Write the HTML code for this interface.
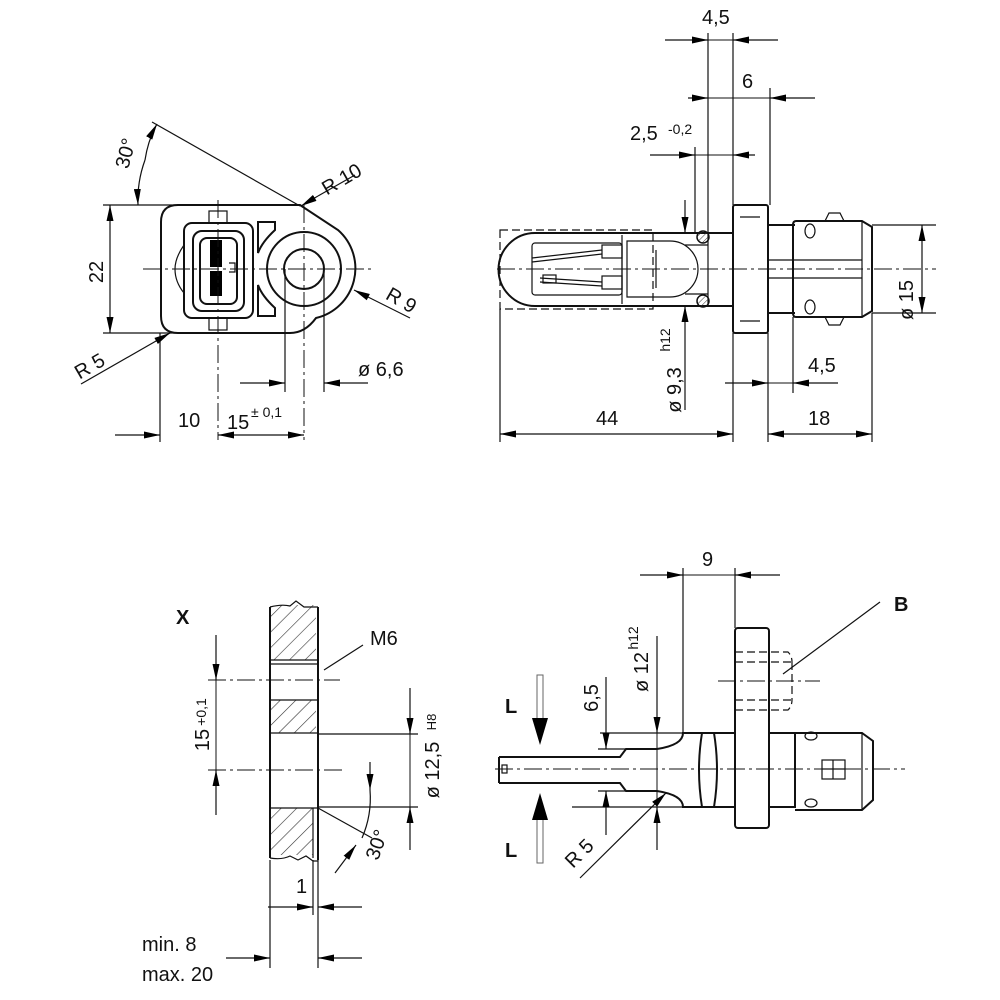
<!DOCTYPE html>
<html><head><meta charset="utf-8"><style>
html,body{margin:0;padding:0;background:#fff}
svg{display:block}
text{font-family:"Liberation Sans",Arial,sans-serif;fill:#111;font-size:20px}
.t{stroke:#111;stroke-width:1.2;fill:none}
.k{stroke:#111;stroke-width:2;fill:none}
.c{stroke:#111;stroke-width:1;fill:none;stroke-dasharray:18 4 3 4}
.d{stroke:#111;stroke-width:1.2;fill:none;stroke-dasharray:8 4}
.a{stroke:#111;stroke-width:1.2;fill:none;marker-end:url(#ar)}
.h{stroke:#111;stroke-width:1;fill:none}
</style></head><body>
<svg width="1000" height="1000" viewBox="0 0 1000 1000" xmlns="http://www.w3.org/2000/svg">
<defs>
<marker id="ar" viewBox="0 0 16 7" refX="16" refY="3.5" markerWidth="16" markerHeight="7" markerUnits="userSpaceOnUse" orient="auto"><path d="M0,0 L16,3.5 L0,7z" fill="#000"/></marker>
<pattern id="hat" width="11" height="11" patternUnits="userSpaceOnUse" patternTransform="rotate(45)"><line x1="0" y1="0" x2="0" y2="11" stroke="#333" stroke-width="1.2"/></pattern>
<pattern id="hat2" width="4" height="4" patternUnits="userSpaceOnUse" patternTransform="rotate(45)"><line x1="0" y1="0" x2="0" y2="4" stroke="#333" stroke-width="1"/></pattern>
</defs>

<!-- ============ VIEW 1 ============ -->
<path class="k" d="M178 205 H300 L338 230 A51 51 0 0 1 316 318 Q305 333 290 333 H178 Q161 333 161 316 V222 Q161 205 178 205 Z"/>
<circle class="k" cx="304" cy="269" r="37"/>
<circle class="k" cx="304" cy="269" r="20"/>
<rect class="k" x="184" y="223" width="69" height="95" rx="8"/>
<rect class="k" x="193" y="231" width="51" height="80" rx="9"/>
<rect class="k" x="200" y="238" width="37" height="66" rx="7"/>
<rect x="210" y="240" width="12" height="27" fill="#000"/>
<rect x="210" y="271" width="12" height="25" fill="#000"/>
<rect class="t" x="209" y="211" width="18" height="12"/>
<rect class="t" x="209" y="318" width="18" height="12"/>
<path class="t" d="M229 263 h6 v9 h-6"/>
<path class="k" d="M258 222 H275 V230 Q262 242 258 253 Z"/>
<path class="k" d="M258 316 H275 V308 Q262 296 258 285 Z"/>
<path class="t" d="M184 245 Q175 258 175 269 Q175 282 184 293"/>
<line class="c" x1="143" y1="269" x2="374" y2="269"/>
<line class="c" x1="218" y1="200" x2="218" y2="440"/>
<line class="c" x1="304" y1="205" x2="304" y2="440"/>
<line class="t" x1="285" y1="269" x2="285" y2="392"/>
<line class="t" x1="324" y1="269" x2="324" y2="392"/>
<line class="t" x1="160" y1="333" x2="160" y2="442"/>
<!-- 22 -->
<line class="t" x1="103" y1="205" x2="178" y2="205"/>
<line class="t" x1="103" y1="333" x2="190" y2="333"/>
<line class="a" x1="110" y1="269" x2="110" y2="205"/>
<line class="a" x1="110" y1="269" x2="110" y2="333"/>
<text transform="translate(103,272) rotate(-90)" text-anchor="middle">22</text>
<!-- 30 deg -->
<line class="t" x1="300" y1="206" x2="152" y2="122"/>
<path class="a" d="M145 160 Q137 182 138 205"/>
<path class="a" d="M145 160 Q148 140 157 124"/>
<text transform="translate(132,155) rotate(-75)" text-anchor="middle">30°</text>
<!-- R10 -->
<line class="t" x1="355" y1="175" x2="318" y2="196"/>
<line class="a" x1="318" y1="196" x2="301" y2="206"/>
<text transform="translate(345,185) rotate(-30)" text-anchor="middle">R 10</text>
<!-- R9 -->
<line class="a" x1="410" y1="318" x2="354" y2="290"/>
<text transform="translate(398,306) rotate(30)" text-anchor="middle">R 9</text>
<!-- R5 -->
<line class="a" x1="81" y1="384" x2="170" y2="333"/>
<text transform="translate(93,372) rotate(-30)" text-anchor="middle">R 5</text>
<!-- ø6,6 -->
<line class="a" x1="240" y1="383" x2="285" y2="383"/>
<line class="a" x1="368" y1="383" x2="324" y2="383"/>
<text x="358" y="376">ø 6,6</text>
<!-- 10 / 15 -->
<line class="a" x1="115" y1="435" x2="160" y2="435"/>
<line class="a" x1="261" y1="435" x2="218" y2="435"/>
<line class="a" x1="261" y1="435" x2="304" y2="435"/>
<text x="178" y="427">10</text>
<text x="227" y="429">15</text>
<text x="251" y="417" style="font-size:14px">± 0,1</text>

<!-- ============ VIEW 2 ============ -->
<line class="c" x1="497" y1="269" x2="936" y2="269"/>
<rect class="d" x="500" y="230" width="153" height="79"/>
<path class="k" d="M535 233 H732 M535 306 H732 M535 233 A36.5 36.5 0 0 0 535 306"/>
<rect class="t" x="532" y="243" width="90" height="52" rx="3"/>
<line class="t" x1="622" y1="235" x2="622" y2="304"/>
<path class="t" d="M627 241 H670 A28 28 0 0 1 670 297 H627 Z"/>
<line class="t" x1="656" y1="250" x2="656" y2="288"/>
<path class="t" d="M532 258 L602 250 M532 262 L602 254 M540 278 L602 282 M540 282 L602 286"/>
<rect class="t" x="602" y="245" width="20" height="13"/>
<rect class="t" x="602" y="276" width="20" height="13"/>
<rect class="t" x="543" y="275" width="13" height="8"/>
<line class="t" x1="685" y1="245" x2="708" y2="245"/>
<line class="t" x1="685" y1="294" x2="708" y2="294"/>
<line class="t" x1="708" y1="233" x2="708" y2="306"/>
<circle cx="703" cy="237" r="6" fill="url(#hat2)" stroke="#111" stroke-width="1.5"/>
<circle cx="703" cy="301" r="6" fill="url(#hat2)" stroke="#111" stroke-width="1.5"/>
<rect class="k" x="733" y="205" width="35" height="128" rx="2"/>
<line class="t" x1="740" y1="217" x2="760" y2="217"/>
<line class="t" x1="740" y1="321" x2="760" y2="321"/>
<path class="k" d="M768 225 H795 M768 313 H795"/>
<path class="k" d="M796 221 H862 L872 227 V311 L862 317 H796 Q793 317 793 313 V225 Q793 221 796 221 Z"/>
<line class="t" x1="862" y1="221" x2="862" y2="317"/>
<line class="t" x1="768" y1="260" x2="862" y2="260"/>
<line class="t" x1="768" y1="278" x2="862" y2="278"/>
<path class="t" d="M825 221 L829 213 H840 L844 221"/>
<path class="t" d="M825 317 L829 325 H840 L844 317"/>
<ellipse class="t" cx="810" cy="231" rx="5" ry="7"/>
<ellipse class="t" cx="810" cy="307" rx="5" ry="7"/>
<!-- ext lines -->
<line class="t" x1="708" y1="33" x2="708" y2="233"/>
<line class="t" x1="733" y1="33" x2="733" y2="205"/>
<line class="t" x1="770" y1="88" x2="770" y2="205"/>
<line class="t" x1="695" y1="147" x2="695" y2="233"/>
<!-- 4,5 -->
<line class="a" x1="665" y1="40" x2="708" y2="40"/>
<line class="a" x1="778" y1="40" x2="733" y2="40"/>
<line class="h" x1="708" y1="40" x2="733" y2="40"/>
<text x="702" y="24">4,5</text>
<!-- 6 -->
<line class="a" x1="688" y1="98" x2="708" y2="98"/>
<line class="a" x1="815" y1="98" x2="770" y2="98"/>
<line class="h" x1="708" y1="98" x2="770" y2="98"/>
<text x="742" y="88">6</text>
<!-- 2,5 -->
<line class="a" x1="650" y1="155" x2="695" y2="155"/>
<line class="a" x1="755" y1="155" x2="733" y2="155"/>
<line class="h" x1="695" y1="155" x2="733" y2="155"/>
<text x="630" y="140">2,5</text>
<text x="668" y="134" style="font-size:14px">-0,2</text>
<!-- ø15 -->
<line class="t" x1="872" y1="225" x2="936" y2="225"/>
<line class="t" x1="872" y1="313" x2="936" y2="313"/>
<line class="a" x1="922" y1="269" x2="922" y2="225"/>
<line class="a" x1="922" y1="269" x2="922" y2="313"/>
<text transform="translate(913,300) rotate(-90)" text-anchor="middle">ø 15</text>
<!-- ø9,3 -->
<line class="a" x1="685" y1="200" x2="685" y2="233"/>
<line class="a" x1="685" y1="410" x2="685" y2="306"/>
<text transform="translate(681,390) rotate(-90)" text-anchor="middle">ø 9,3</text>
<text transform="translate(670,340) rotate(-90)" text-anchor="middle" style="font-size:14px">h12</text>
<!-- 44 / 18 -->
<line class="t" x1="500" y1="309" x2="500" y2="442"/>
<line class="t" x1="733" y1="333" x2="733" y2="442"/>
<line class="t" x1="768" y1="333" x2="768" y2="442"/>
<line class="t" x1="872" y1="313" x2="872" y2="442"/>
<line class="t" x1="793" y1="317" x2="793" y2="393"/>
<line class="a" x1="616" y1="434" x2="500" y2="434"/>
<line class="a" x1="616" y1="434" x2="733" y2="434"/>
<text x="596" y="425">44</text>
<line class="a" x1="820" y1="434" x2="768" y2="434"/>
<line class="a" x1="820" y1="434" x2="872" y2="434"/>
<text x="808" y="425">18</text>
<line class="a" x1="725" y1="383" x2="768" y2="383"/>
<line class="a" x1="838" y1="383" x2="793" y2="383"/>
<line class="h" x1="768" y1="383" x2="793" y2="383"/>
<text x="808" y="372">4,5</text>

<!-- ============ VIEW 3 ============ -->
<path d="M270 605 H316 V660 H270 Z" fill="url(#hat)"/>
<path d="M270 700 H316 V733 H270 Z" fill="url(#hat)"/>
<path d="M270 808 H313 V855 H270 Z" fill="url(#hat)"/>
<path class="k" d="M270 607 V858 M318 607 V860"/>
<path class="t" d="M270 607 Q282 604 290 606 L296 601 L304 607 H318"/>
<path class="t" d="M270 858 Q282 860 290 856 L298 860 L306 856 L313 861 H318"/>
<path class="t" d="M270 660 H318 M270 664 H318 M270 700 H318 M270 733 H318 M270 808 H313 L318 808"/>
<line class="t" x1="313" y1="808" x2="313" y2="858"/>
<line class="c" x1="208" y1="680" x2="340" y2="680"/>
<line class="c" x1="208" y1="770" x2="345" y2="770"/>
<line class="a" x1="216" y1="635" x2="216" y2="680"/>
<line class="a" x1="216" y1="815" x2="216" y2="770"/>
<line class="h" x1="216" y1="680" x2="216" y2="770"/>
<text transform="translate(209,740) rotate(-90)" text-anchor="middle">15</text>
<text transform="translate(206,712) rotate(-90)" text-anchor="middle" style="font-size:14px">+0,1</text>
<line class="t" x1="318" y1="734" x2="418" y2="734"/>
<line class="t" x1="318" y1="807" x2="418" y2="807"/>
<line class="a" x1="410" y1="688" x2="410" y2="734"/>
<line class="a" x1="410" y1="850" x2="410" y2="807"/>
<line class="h" x1="410" y1="734" x2="410" y2="807"/>
<text transform="translate(439,770) rotate(-90)" text-anchor="middle">ø 12,5</text>
<text transform="translate(436,722) rotate(-90)" text-anchor="middle" style="font-size:13px">H8</text>
<line class="t" x1="318" y1="808" x2="372" y2="838"/>
<line class="a" x1="370" y1="762" x2="370" y2="790"/>
<path class="t" d="M370 790 Q372 815 362 838"/>
<line class="a" x1="335" y1="873" x2="356" y2="845"/>
<text transform="translate(383,847) rotate(-70)" text-anchor="middle">30°</text>
<line class="t" x1="324" y1="670" x2="363" y2="645"/>
<text x="370" y="645">M6</text>
<text x="176" y="624" style="font-weight:bold">X</text>
<line class="t" x1="270" y1="860" x2="270" y2="968"/>
<line class="t" x1="318" y1="860" x2="318" y2="968"/>
<line class="t" x1="313" y1="860" x2="313" y2="915"/>
<line class="a" x1="268" y1="907" x2="313" y2="907"/>
<line class="a" x1="362" y1="907" x2="318" y2="907"/>
<text x="296" y="893">1</text>
<line class="a" x1="226" y1="958" x2="270" y2="958"/>
<line class="a" x1="362" y1="958" x2="318" y2="958"/>
<text x="142" y="951">min. 8</text>
<text x="142" y="981">max. 20</text>

<!-- ============ VIEW 4 ============ -->
<line class="c" x1="495" y1="769" x2="905" y2="769"/>
<path class="k" d="M499 757 H620 L626 749 H657 Q683 745 683 733 H735 M499 783 H620 L626 791 H657 Q683 795 683 807 H735 M499 757 V783"/>
<rect class="t" x="502" y="765" width="5" height="8"/>
<path class="k" d="M702 733 Q696 770 702 807 M714 733 Q720 770 714 807"/>
<rect class="k" x="735" y="628" width="34" height="200" rx="3"/>
<path class="d" d="M735 652 H788 Q792 656 792 662 M735 662 H792 M735 700 H792 M735 710 H788 Q792 706 792 700 M792 662 V700"/>
<line class="c" x1="718" y1="681" x2="820" y2="681"/>
<line class="t" x1="783" y1="674" x2="880" y2="602"/>
<text x="894" y="611" style="font-weight:bold">B</text>
<path class="k" d="M769 733 H862 L873 741 V800 L862 810 H795 M769 807 H795 V733"/>
<line class="t" x1="862" y1="733" x2="862" y2="810"/>
<rect class="t" x="822" y="760" width="23" height="19"/>
<line class="t" x1="833" y1="760" x2="833" y2="779"/>
<line class="t" x1="822" y1="769" x2="845" y2="769"/>
<ellipse class="t" cx="811" cy="736" rx="6" ry="4"/>
<ellipse class="t" cx="811" cy="803" rx="6" ry="4"/>
<!-- 9 -->
<line class="t" x1="683" y1="568" x2="683" y2="733"/>
<line class="t" x1="735" y1="568" x2="735" y2="628"/>
<line class="a" x1="640" y1="575" x2="683" y2="575"/>
<line class="a" x1="780" y1="575" x2="735" y2="575"/>
<line class="h" x1="683" y1="575" x2="735" y2="575"/>
<text x="702" y="566">9</text>
<!-- ø12 -->
<line class="a" x1="657" y1="636" x2="657" y2="733"/>
<line class="a" x1="657" y1="850" x2="657" y2="807"/>
<line class="h" x1="657" y1="733" x2="657" y2="807"/>
<text transform="translate(648,672) rotate(-90)" text-anchor="middle">ø 12</text>
<text transform="translate(638,638) rotate(-90)" text-anchor="middle" style="font-size:14px">h12</text>
<!-- 6,5 -->
<line class="t" x1="600" y1="733" x2="683" y2="733"/>
<line class="t" x1="598" y1="749" x2="626" y2="749"/>
<line class="t" x1="598" y1="791" x2="626" y2="791"/>
<line class="t" x1="572" y1="807" x2="683" y2="807"/>
<line class="a" x1="606" y1="677" x2="606" y2="749"/>
<line class="a" x1="606" y1="835" x2="606" y2="791"/>
<text transform="translate(598,698) rotate(-90)" text-anchor="middle">6,5</text>
<!-- R5 -->
<line class="a" x1="580" y1="878" x2="666" y2="793"/>
<text transform="translate(584,858) rotate(-45)" text-anchor="middle">R 5</text>
<!-- L arrows -->
<rect x="537" y="675" width="6" height="48" fill="#fff" stroke="#666" stroke-width="1"/>
<path d="M532 718 H548 L540 745 Z" fill="#000"/>
<rect x="537" y="815" width="6" height="48" fill="#fff" stroke="#666" stroke-width="1"/>
<path d="M532 820 H548 L540 793 Z" fill="#000"/>
<text x="505" y="713" style="font-weight:bold">L</text>
<text x="505" y="857" style="font-weight:bold">L</text>
</svg>
</body></html>
